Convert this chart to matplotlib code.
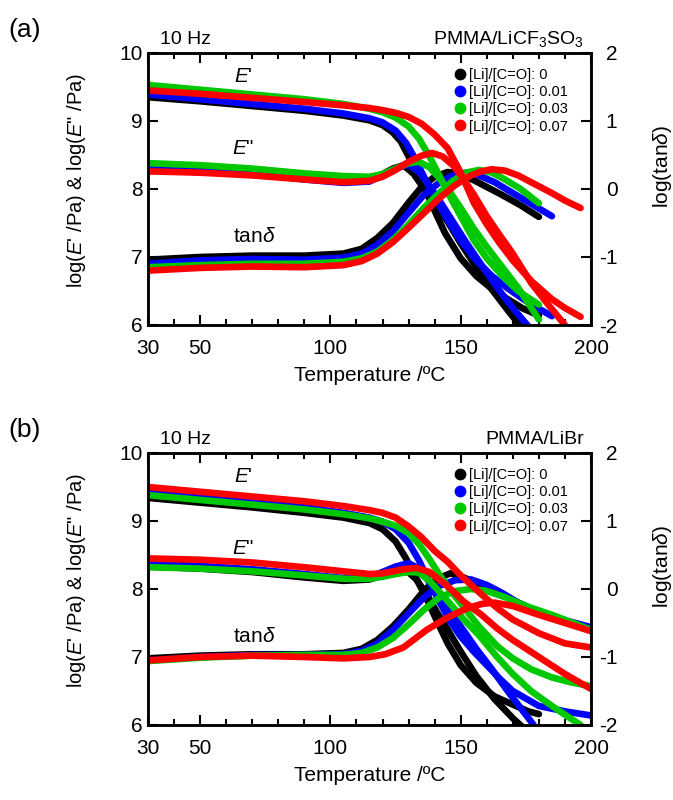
# DMA curves of PMMA/Li salt films, 10 Hz
import numpy as np
import matplotlib.pyplot as plt
from matplotlib.lines import Line2D

plt.rcParams['font.family'] = 'Liberation Sans'
plt.rcParams['mathtext.fontset'] = 'custom'
plt.rcParams['mathtext.rm'] = 'Liberation Sans'
plt.rcParams['mathtext.it'] = 'Liberation Sans:italic'
plt.rcParams['axes.unicode_minus'] = False

colors = ['#000000', '#0000ff', '#00c800', '#ff0000']
ratios = ['0', '0.01', '0.03', '0.07']

# ---------------- (a) PMMA/LiCF3SO3 ----------------
# log(E'/Pa)
a0_ep_T = [30, 50, 70, 90, 105, 115, 120, 124, 127, 130, 133, 136, 140, 144, 150, 156, 162, 168, 174, 180]
a0_ep = [9.35, 9.29, 9.22, 9.15, 9.08, 9.01, 8.94, 8.83, 8.7, 8.48, 8.25, 8.02, 7.68, 7.35, 6.98, 6.72, 6.53, 6.38, 6.24, 6.14]
a1_ep_T = [30, 50, 70, 90, 105, 115, 120, 125, 129, 132, 135, 138, 142, 146, 150, 156, 162, 168, 174, 180, 185]
a1_ep = [9.39, 9.32, 9.25, 9.18, 9.11, 9.04, 8.98, 8.86, 8.68, 8.48, 8.25, 8.02, 7.74, 7.48, 7.24, 6.95, 6.72, 6.54, 6.38, 6.24, 6.13]
a2_ep_T = [30, 50, 70, 90, 105, 115, 120, 125, 130, 134, 138, 142, 146, 150, 155, 160, 166, 172, 180]
a2_ep = [9.53, 9.46, 9.39, 9.32, 9.25, 9.18, 9.13, 9.05, 8.92, 8.74, 8.48, 8.18, 7.88, 7.6, 7.25, 6.98, 6.72, 6.5, 6.3]
a3_ep_T = [30, 50, 70, 90, 105, 115, 120, 125, 130, 135, 140, 145, 150, 155, 160, 165, 170, 177, 185, 190, 196]
a3_ep = [9.45, 9.4, 9.34, 9.28, 9.23, 9.19, 9.16, 9.12, 9.06, 8.96, 8.8, 8.6, 8.24, 7.8, 7.48, 7.2, 6.95, 6.65, 6.38, 6.25, 6.12]

# log(E''/Pa)
a0_epp_T = [30, 50, 70, 90, 105, 115, 120, 124, 128, 132, 136, 140, 145, 150, 156, 162, 168, 173]
a0_epp = [8.33, 8.3, 8.24, 8.16, 8.12, 8.15, 8.22, 8.3, 8.35, 8.22, 8.0, 7.8, 7.52, 7.2, 6.85, 6.52, 6.22, 5.98]
a1_epp_T = [30, 50, 70, 90, 105, 115, 120, 125, 130, 134, 138, 142, 147, 152, 158, 164, 170, 176]
a1_epp = [8.32, 8.29, 8.23, 8.14, 8.09, 8.11, 8.2, 8.3, 8.36, 8.25, 8.05, 7.82, 7.52, 7.22, 6.88, 6.55, 6.25, 5.98]
a2_epp_T = [30, 50, 70, 90, 105, 115, 120, 125, 130, 134, 138, 142, 146, 150, 155, 160, 166, 172, 180]
a2_epp = [8.38, 8.35, 8.3, 8.23, 8.19, 8.18, 8.22, 8.3, 8.38, 8.4, 8.32, 8.15, 7.95, 7.72, 7.42, 7.15, 6.85, 6.55, 6.08]
a3_epp_T = [30, 50, 70, 90, 105, 115, 120, 125, 130, 135, 139, 143, 147, 151, 155, 160, 165, 170, 177, 184, 190]
a3_epp = [8.26, 8.24, 8.2, 8.14, 8.1, 8.12, 8.18, 8.28, 8.4, 8.49, 8.53, 8.48, 8.35, 8.15, 7.92, 7.6, 7.32, 7.05, 6.62, 6.28, 6.0]

# log(tan delta)
a0_tan_T = [30, 50, 70, 90, 105, 112, 118, 124, 130, 135, 140, 145, 150, 155, 160, 166, 173, 180]
a0_tan = [-1.04, -1.0, -0.98, -0.98, -0.95, -0.88, -0.72, -0.5, -0.2, 0.03, 0.18, 0.25, 0.22, 0.13, 0.03, -0.09, -0.24, -0.41]
a1_tan_T = [30, 50, 70, 90, 105, 112, 118, 124, 130, 136, 142, 147, 152, 157, 163, 170, 178, 185]
a1_tan = [-1.1, -1.05, -1.03, -1.04, -1.01, -0.95, -0.82, -0.62, -0.35, -0.08, 0.1, 0.2, 0.24, 0.2, 0.1, -0.06, -0.24, -0.4]
a2_tan_T = [30, 50, 70, 90, 105, 112, 118, 124, 130, 136, 142, 147, 152, 157, 162, 167, 173, 180]
a2_tan = [-1.15, -1.12, -1.1, -1.1, -1.07, -1.02, -0.92, -0.75, -0.52, -0.27, -0.05, 0.12, 0.24, 0.28, 0.24, 0.14, 0.0, -0.21]
a3_tan_T = [30, 50, 70, 90, 105, 112, 118, 124, 130, 136, 142, 148, 154, 158, 162, 167, 172, 178, 185, 190, 196]
a3_tan = [-1.2, -1.16, -1.14, -1.15, -1.12, -1.06, -0.95, -0.78, -0.57, -0.35, -0.13, 0.06, 0.2, 0.26, 0.29, 0.27, 0.2, 0.08, -0.06, -0.17, -0.28]

# ---------------- (b) PMMA/LiBr ----------------
b0_ep_T = [30, 50, 70, 90, 105, 115, 120, 125, 129, 133, 137, 141, 145, 150, 156, 163, 170, 176, 180]
b0_ep = [9.34, 9.27, 9.2, 9.12, 9.05, 8.97, 8.88, 8.7, 8.45, 8.15, 7.85, 7.52, 7.2, 6.88, 6.62, 6.42, 6.3, 6.2, 6.16]
b1_ep_T = [30, 50, 70, 90, 105, 115, 120, 125, 130, 134, 138, 142, 146, 150, 155, 160, 165, 170, 180, 190, 200]
b1_ep = [9.43, 9.35, 9.28, 9.2, 9.12, 9.05, 8.99, 8.88, 8.68, 8.42, 8.1, 7.8, 7.52, 7.3, 7.08, 6.88, 6.68, 6.5, 6.28, 6.2, 6.14]
b2_ep_T = [30, 50, 70, 90, 105, 115, 120, 125, 130, 134, 138, 142, 146, 151, 157, 164, 170, 177, 185, 192, 200]
b2_ep = [9.38, 9.31, 9.24, 9.17, 9.1, 9.04, 8.99, 8.93, 8.82, 8.66, 8.44, 8.2, 7.98, 7.74, 7.45, 7.16, 6.98, 6.82, 6.7, 6.63, 6.57]
b3_ep_T = [30, 50, 70, 90, 105, 115, 120, 125, 130, 135, 140, 145, 150, 158, 164, 170, 180, 190, 200]
b3_ep = [9.5, 9.43, 9.36, 9.29, 9.22, 9.16, 9.12, 9.05, 8.92, 8.76, 8.56, 8.4, 8.2, 7.92, 7.72, 7.55, 7.35, 7.2, 7.14]

b0_epp_T = [30, 50, 70, 90, 105, 115, 120, 125, 129, 133, 137, 141, 145, 150, 156, 163, 170, 174]
b0_epp = [8.33, 8.3, 8.25, 8.17, 8.12, 8.14, 8.2, 8.26, 8.28, 8.14, 7.92, 7.65, 7.4, 7.08, 6.72, 6.38, 6.1, 5.96]
b1_epp_T = [30, 50, 70, 90, 105, 115, 120, 125, 130, 134, 138, 142, 146, 150, 156, 162, 168, 174, 178]
b1_epp = [8.37, 8.34, 8.29, 8.22, 8.16, 8.18, 8.25, 8.33, 8.38, 8.3, 8.1, 7.88, 7.66, 7.45, 7.12, 6.82, 6.5, 6.2, 6.0]
b2_epp_T = [30, 50, 70, 90, 105, 115, 120, 125, 130, 134, 138, 142, 146, 151, 157, 164, 170, 177, 185, 192, 196]
b2_epp = [8.32, 8.3, 8.26, 8.2, 8.15, 8.15, 8.18, 8.22, 8.25, 8.24, 8.12, 7.95, 7.78, 7.56, 7.32, 7.0, 6.75, 6.5, 6.28, 6.1, 6.0]
b3_epp_T = [30, 50, 70, 90, 105, 115, 120, 128, 133, 138, 145, 151, 158, 164, 170, 180, 190, 200]
b3_epp = [8.45, 8.43, 8.39, 8.32, 8.26, 8.22, 8.23, 8.29, 8.31, 8.25, 8.04, 7.82, 7.62, 7.42, 7.25, 7.0, 6.75, 6.53]

b0_tan_T = [30, 50, 70, 90, 105, 112, 118, 124, 130, 136, 141, 146, 151, 157, 164, 172, 180]
b0_tan = [-1.02, -0.98, -0.96, -0.96, -0.94, -0.88, -0.75, -0.55, -0.3, -0.02, 0.15, 0.23, 0.17, 0.08, -0.05, -0.2, -0.34]
b1_tan_T = [30, 50, 70, 90, 105, 112, 118, 124, 130, 136, 142, 148, 154, 160, 166, 172, 180, 190, 200]
b1_tan = [-1.05, -1.0, -0.97, -0.97, -0.96, -0.91, -0.8, -0.6, -0.36, -0.12, 0.05, 0.13, 0.14, 0.06, -0.06, -0.2, -0.34, -0.46, -0.56]
b2_tan_T = [30, 50, 70, 90, 105, 112, 118, 124, 130, 136, 142, 148, 154, 160, 167, 175, 185, 200]
b2_tan = [-1.06, -1.01, -0.98, -0.97, -0.97, -0.94, -0.86, -0.72, -0.52, -0.3, -0.12, -0.03, 0.0, -0.03, -0.12, -0.25, -0.38, -0.6]
b3_tan_T = [30, 50, 70, 90, 105, 115, 121, 128, 137, 144, 152, 158, 163, 170, 180, 190, 200]
b3_tan = [-1.05, -1.0, -0.98, -1.0, -1.02, -1.0, -0.96, -0.86, -0.6, -0.44, -0.29, -0.22, -0.2, -0.25, -0.38, -0.5, -0.62]

panel_a = [((a0_ep_T, a0_ep), (a0_epp_T, a0_epp), (a0_tan_T, a0_tan)),
           ((a1_ep_T, a1_ep), (a1_epp_T, a1_epp), (a1_tan_T, a1_tan)),
           ((a2_ep_T, a2_ep), (a2_epp_T, a2_epp), (a2_tan_T, a2_tan)),
           ((a3_ep_T, a3_ep), (a3_epp_T, a3_epp), (a3_tan_T, a3_tan))]
panel_b = [((b0_ep_T, b0_ep), (b0_epp_T, b0_epp), (b0_tan_T, b0_tan)),
           ((b1_ep_T, b1_ep), (b1_epp_T, b1_epp), (b1_tan_T, b1_tan)),
           ((b2_ep_T, b2_ep), (b2_epp_T, b2_epp), (b2_tan_T, b2_tan)),
           ((b3_ep_T, b3_ep), (b3_epp_T, b3_epp), (b3_tan_T, b3_tan))]

W, H = 673, 800
fig = plt.figure(figsize=(W / 100, H / 100), dpi=100)


def draw_panel(top_px, curves, salt, tag):
    bottom_px = top_px + 272
    ax = fig.add_axes([148 / W, 1 - bottom_px / H, 443 / W, 272 / H])
    axr = ax.twinx()
    ax.set_xlim(30, 200)
    ax.set_ylim(6, 10)
    axr.set_ylim(-2, 2)

    lw = 4.8
    for c, (ep, epp, tan) in zip(colors, curves):
        ax.plot(ep[0], ep[1], color=c, lw=lw, solid_joinstyle='round', solid_capstyle='round')
        ax.plot(epp[0], epp[1], color=c, lw=lw, solid_joinstyle='round', solid_capstyle='round')
        # tan delta uses the right-hand scale but sits in the same stack as E', E''
        ax.plot(tan[0], tan[1], color=c, lw=lw, solid_joinstyle='round', solid_capstyle='round',
                transform=axr.transData)

    ax.set_xticks([30, 50, 100, 150, 200])
    ax.set_xticks(np.arange(40, 200, 10), minor=True)
    ax.set_yticks([6, 7, 8, 9, 10])
    axr.set_yticks([-2, -1, 0, 1, 2])
    ax.tick_params(which='both', direction='in', top=True, right=False, width=1.5)
    ax.tick_params(which='major', length=7, labelsize=15)
    ax.tick_params(which='minor', length=4)
    ax.tick_params(axis='x', pad=10)
    ax.tick_params(axis='y', pad=4)
    axr.tick_params(direction='in', length=7, width=1.5, labelsize=15, pad=19)
    for lab in axr.get_yticklabels():
        lab.set_horizontalalignment('right')
    for a in (ax, axr):
        for s in a.spines.values():
            s.set_linewidth(1.8)

    ax.set_xlabel('Temperature /ºC', fontsize=15, labelpad=6)
    fig.text(77 / W, 1 - (top_px + 127) / H, "log($E$' /Pa) & log($E$\" /Pa)",
             rotation=90, ha='center', va='center', fontsize=14.5)
    fig.text(662 / W, 1 - (top_px + 113) / H, r"log(tan$\delta$)",
             rotation=90, ha='center', va='center', fontsize=15)

    ax.text(0.027, 1.033, '10 Hz', transform=ax.transAxes, fontsize=14, va='baseline')
    ax.text(0.984, 1.033, salt, transform=ax.transAxes, fontsize=14, va='baseline', ha='right')
    fig.text(8 / W, 1 - (top_px - 23) / H, tag, fontsize=19, va='center')

    ax.text(66.5, 9.66, "$E$'", fontsize=15, ha='center', va='center')
    ax.text(66.5, 8.6, '$E$"', fontsize=15, ha='center', va='center')
    ax.text(70.8, 7.3, r"tan$\delta$", fontsize=15, ha='center', va='center')

    handles = [Line2D([], [], ls='none', marker='o', ms=7.5, color=c) for c in colors]
    labels = ['[Li]/[C=O]: ' + r for r in ratios]
    ax.legend(handles, labels, loc='upper left', bbox_to_anchor=(0.6875, 0.945),
              frameon=False, fontsize=10.5, handletextpad=0.1, labelspacing=0.22,
              handlelength=1.0, borderpad=0, borderaxespad=0)
    return ax


draw_panel(53, panel_a, 'PMMA/LiCF$_3$SO$_3$', '(a)')
draw_panel(453, panel_b, 'PMMA/LiBr', '(b)')

fig.savefig('out.png', dpi=100)
